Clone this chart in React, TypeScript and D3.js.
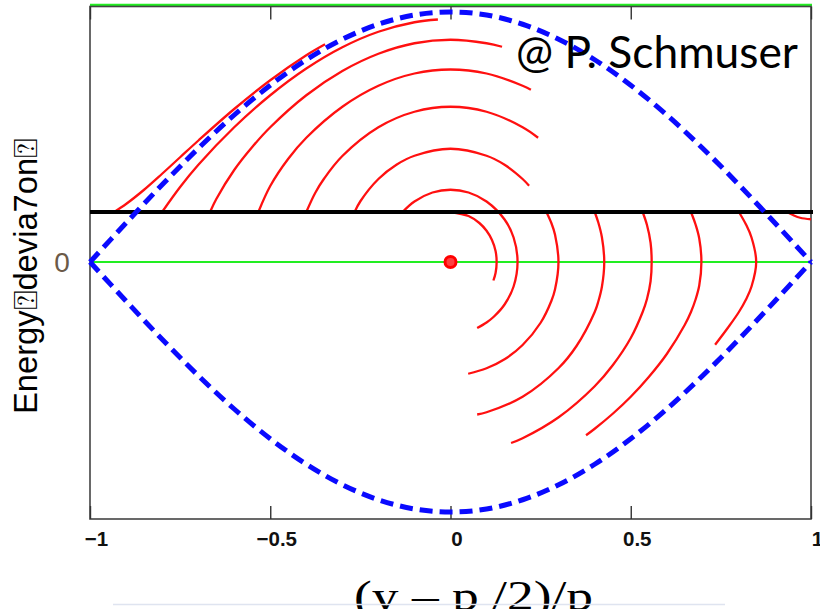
import React, { useEffect, useRef } from "react";
import * as d3 from "d3";

// axis ticks on the phase axis
const phaseTicks = [-1, -0.5, 0, 0.5, 1];
// energy offset of the injection line (black)
const injectionOffset = 0.2;

// separatrix (upper half, lower half is the mirror)
const sepPhase = [-1, -0.9, -0.8, -0.7, -0.6, -0.5, -0.4, -0.3, -0.2, -0.1, 0, 0.1, 0.2, 0.3, 0.4, 0.5, 0.6, 0.7, 0.8, 0.9, 1];
const sepEnergy = [0, 0.156, 0.309, 0.454, 0.588, 0.707, 0.809, 0.891, 0.951, 0.988, 1, 0.988, 0.951, 0.891, 0.809, 0.707, 0.588, 0.454, 0.309, 0.156, 0];

// particle tracks, [phase, energy], each starts on the injection line
const trackOuterLeft = [[-0.933, 0.2], [-0.9, 0.232], [-0.85, 0.289], [-0.8, 0.353], [-0.75, 0.419], [-0.7, 0.485], [-0.6, 0.612], [-0.5, 0.727], [-0.4, 0.827], [-0.348, 0.871]];
const trackA = [[-0.8, 0.2], [-0.75, 0.3], [-0.7, 0.388], [-0.6, 0.539], [-0.5, 0.667], [-0.4, 0.774], [-0.3, 0.859], [-0.2, 0.921], [-0.1, 0.959], [-0.035, 0.97]];
const trackB = [[-0.667, 0.2], [-0.65, 0.251], [-0.6, 0.368], [-0.55, 0.46], [-0.5, 0.539], [-0.4, 0.667], [-0.3, 0.764], [-0.2, 0.833], [-0.1, 0.875], [0, 0.889], [0.1, 0.875], [0.143, 0.861]];
const trackC = [[-0.533, 0.2], [-0.5, 0.304], [-0.45, 0.413], [-0.4, 0.497], [-0.3, 0.621], [-0.2, 0.705], [-0.1, 0.754], [0, 0.77], [0.1, 0.754], [0.2, 0.705], [0.223, 0.689]];
const trackD = [[-0.4, 0.2], [-0.375, 0.277], [-0.35, 0.335], [-0.3, 0.424], [-0.2, 0.539], [-0.1, 0.601], [0, 0.621], [0.1, 0.601], [0.2, 0.539], [0.243, 0.497]];
const trackE = [[-0.266, 0.2], [-0.25, 0.243], [-0.2, 0.332], [-0.15, 0.389], [-0.1, 0.425], [0, 0.453], [0.1, 0.425], [0.15, 0.389], [0.2, 0.332], [0.218, 0.305]];
const trackF = [[-0.133, 0.2], [-0.1, 0.242], [-0.05, 0.278], [0, 0.289], [0.05, 0.278], [0.1, 0.242], [0.15, 0.17], [0.175, 0.098], [0.186, 0], [0.175, -0.098], [0.15, -0.17], [0.12, -0.219], [0.1, -0.242], [0.074, -0.264]];
const trackG = [[0, 0.2], [0.05, 0.184], [0.08, 0.156], [0.1, 0.125], [0.115, 0.088], [0.125, 0.044], [0.128, 0], [0.125, -0.044], [0.119, -0.074]];
const trackH = [[0.266, 0.2], [0.28, 0.155], [0.29, 0.109], [0.2995, 0], [0.29, -0.109], [0.28, -0.155], [0.25, -0.243], [0.2, -0.332], [0.15, -0.389], [0.1, -0.425], [0.049, -0.447]];
const trackI = [[0.4, 0.2], [0.41, 0.158], [0.42, 0.099], [0.4265, 0], [0.42, -0.099], [0.41, -0.158], [0.4, -0.2], [0.35, -0.335], [0.3, -0.424], [0.2, -0.539], [0.1, -0.601], [0.074, -0.61]];
const trackJ = [[0.533, 0.2], [0.545, 0.148], [0.555, 0.077], [0.558, 0], [0.555, -0.077], [0.545, -0.148], [0.533, -0.2], [0.5, -0.304], [0.45, -0.413], [0.4, -0.497], [0.3, -0.621], [0.2, -0.705], [0.168, -0.724]];
const trackK = [[0.667, 0.2], [0.68, 0.149], [0.69, 0.094], [0.696, 0], [0.69, -0.094], [0.68, -0.149], [0.667, -0.2], [0.65, -0.251], [0.6, -0.368], [0.55, -0.46], [0.5, -0.539], [0.45, -0.607], [0.4, -0.667], [0.376, -0.693]];
const trackL = [[0.8, 0.2], [0.82, 0.149], [0.835, 0.098], [0.848, 0], [0.835, -0.098], [0.82, -0.149], [0.8, -0.2], [0.77, -0.262], [0.734, -0.331]];
const trackOuterRight = [[0.933, 0.2], [0.95, 0.188], [0.97, 0.177], [1, 0.171]];

const tracks = [trackOuterLeft, trackA, trackB, trackC, trackD, trackE, trackF, trackG, trackH, trackI, trackJ, trackK, trackL, trackOuterRight];

export default function App() {
  const ref = useRef<SVGSVGElement>(null);

  useEffect(() => {
    const svg = d3.select(ref.current);
    svg.selectAll("*").remove();

    const left = 90, right = 811, top = 6.5, bottom = 519;
    const x = d3.scaleLinear().domain([-1, 1]).range([left, right]);
    const y = d3.scaleLinear().domain([-1.028, 1.022]).range([bottom, top]);

    const line = d3.line<number[]>()
      .x(d => x(d[0]))
      .y(d => y(d[1]))
      .curve(d3.curveCatmullRom.alpha(0.5));

    // green reference lines
    svg.append("line")
      .attr("x1", left).attr("x2", right + 1)
      .attr("y1", 5).attr("y2", 5)
      .attr("stroke", "#22ee22").attr("stroke-width", 2.5);
    svg.append("line")
      .attr("x1", left).attr("x2", right)
      .attr("y1", y(0)).attr("y2", y(0))
      .attr("stroke", "#22ee22").attr("stroke-width", 2);

    // frame
    svg.append("rect")
      .attr("x", left).attr("y", top)
      .attr("width", right - left).attr("height", bottom - top)
      .attr("fill", "none").attr("stroke", "#444").attr("stroke-width", 1.6);

    // axes
    const bottomAxis = svg.append("g")
      .attr("transform", "translate(0," + bottom + ")")
      .call(d3.axisBottom(x).tickValues(phaseTicks).tickSizeInner(-13).tickSizeOuter(0).tickPadding(12).tickFormat(d3.format("")));
    bottomAxis.select(".domain").remove();
    bottomAxis.selectAll("line").attr("stroke", "#333").attr("stroke-width", 1.4);
    bottomAxis.selectAll("text")
      .attr("dx", 6)
      .attr("fill", "#111")
      .style("font-family", "'Liberation Sans', Arial, sans-serif")
      .style("font-weight", "bold")
      .style("font-size", "20.5px");

    const topAxis = svg.append("g")
      .attr("transform", "translate(0," + top + ")")
      .call(d3.axisTop(x).tickValues(phaseTicks).tickSizeInner(-13).tickSizeOuter(0).tickFormat(() => ""));
    topAxis.select(".domain").remove();
    topAxis.selectAll("line").attr("stroke", "#333").attr("stroke-width", 1.4);

    // red particle tracks
    svg.append("g").selectAll("path")
      .data(tracks)
      .enter().append("path")
      .attr("d", d => line(d as number[][]))
      .attr("fill", "none")
      .attr("stroke", "#ff1010")
      .attr("stroke-width", 2.3);

    // injection line
    svg.append("line")
      .attr("x1", left).attr("x2", right + 2)
      .attr("y1", y(injectionOffset)).attr("y2", y(injectionOffset))
      .attr("stroke", "#000").attr("stroke-width", 4);

    // synchronous particle
    svg.append("circle")
      .attr("cx", x(0)).attr("cy", y(0)).attr("r", 5.5)
      .attr("fill", "#ff4040").attr("stroke", "#ff0000").attr("stroke-width", 3);

    // separatrix
    const upper = sepPhase.map((p, i) => [p, sepEnergy[i]]);
    const lower = sepPhase.map((p, i) => [p, -sepEnergy[i]]);
    svg.append("g").selectAll("path")
      .data([upper, lower])
      .enter().append("path")
      .attr("d", d => line(d))
      .attr("fill", "none")
      .attr("stroke", "#0a0aff")
      .attr("stroke-width", 5)
      .attr("stroke-dasharray", "13 7");

    // y axis zero label
    svg.append("text")
      .attr("x", 62).attr("y", y(0) + 10)
      .attr("text-anchor", "middle")
      .attr("fill", "#6b5a48")
      .style("font-family", "'Liberation Sans', Arial, sans-serif")
      .style("font-size", "28px")
      .text("0");

    // axis titles
    svg.append("text")
      .attr("transform", "translate(37,276) rotate(-90)")
      .attr("text-anchor", "middle")
      .attr("textLength", 276)
      .attr("lengthAdjust", "spacingAndGlyphs")
      .attr("fill", "#000")
      .style("font-family", "'Liberation Sans', Arial, sans-serif")
      .style("font-size", "33px")
      .text("Energy\u2370devia7on\u2370");

    svg.append("text")
      .attr("x", 354).attr("y", 610)
      .attr("textLength", 239)
      .attr("lengthAdjust", "spacingAndGlyphs")
      .attr("fill", "#000")
      .style("font-family", "'Liberation Serif', 'Times New Roman', serif")
      .style("font-size", "42px")
      .text("(y \u2013 p /2)/p");

    // faint box under the title
    svg.append("line")
      .attr("x1", 113).attr("x2", 725)
      .attr("y1", 604.5).attr("y2", 604.5)
      .attr("stroke", "#dfe4f0").attr("stroke-width", 1.5);

    svg.append("text")
      .attr("x", 516).attr("y", 68)
      .attr("textLength", 282)
      .attr("lengthAdjust", "spacingAndGlyphs")
      .attr("fill", "#000")
      .style("font-family", "Lato, 'Open Sans', sans-serif")
      .style("font-size", "45px")
      .text("@ P. Schmuser");
  }, []);

  return (
    <svg ref={ref} width={820} height={609}
      style={{ position: "absolute", left: 0, top: 0, background: "#fff" }} />
  );
}
